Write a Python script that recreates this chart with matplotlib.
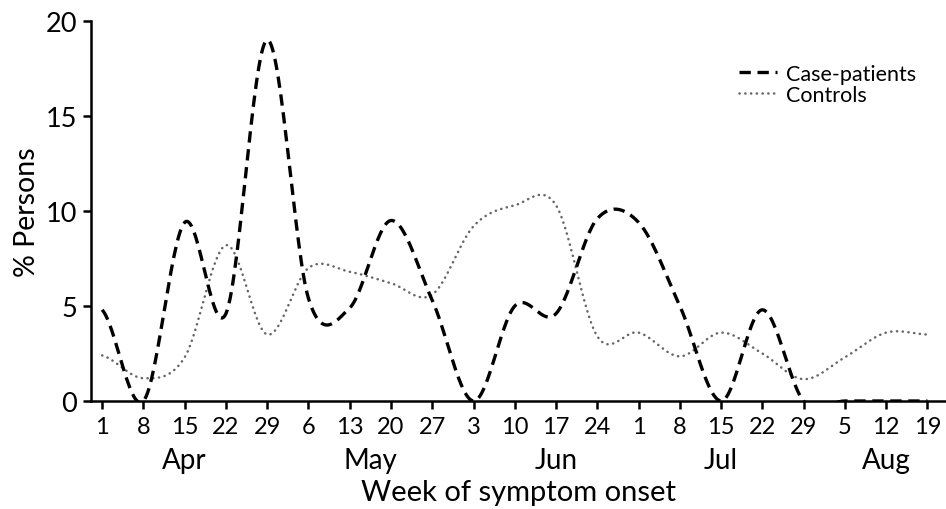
import numpy as np
import matplotlib.pyplot as plt

plt.rcParams["font.family"] = ["Lato", "DejaVu Sans"]

week_labels = ["1", "8", "15", "22", "29", "6", "13", "20", "27", "3", "10",
               "17", "24", "1", "8", "15", "22", "29", "5", "12", "19"]
months = ["Apr", "May", "Jun", "Jul", "Aug"]
month_pos = [2, 6.5, 11, 15, 19]

case_patients = [4.8, 0, 9.4, 4.6, 19.0, 5.4, 4.9, 9.5, 5.3, 0, 5.0,
                 4.6, 9.6, 9.4, 5.0, 0, 4.8, 0, 0, 0, 0]
controls = [2.4, 1.2, 2.3, 8.2, 3.5, 7.0, 6.8, 6.2, 5.6, 9.2, 10.3,
            10.3, 3.4, 3.6, 2.35, 3.6, 2.5, 1.15, 2.3, 3.6, 3.5]


def smooth(y, n=30):
    # Catmull-Rom curve through the weekly points (like Excel's smoothed line)
    y = np.asarray(y, float)
    p = np.concatenate([[y[0]], y, [y[-1]]])
    xs, ys = [], []
    for i in range(len(y) - 1):
        p0, p1, p2, p3 = p[i], p[i + 1], p[i + 2], p[i + 3]
        t = np.linspace(0, 1, n, endpoint=False)
        v = 0.5 * (2 * p1 + (-p0 + p2) * t + (2 * p0 - 5 * p1 + 4 * p2 - p3) * t ** 2
                   + (-p0 + 3 * p1 - 3 * p2 + p3) * t ** 3)
        xs.append(i + t)
        ys.append(v)
    xs.append([len(y) - 1])
    ys.append([y[-1]])
    return np.concatenate(xs), np.concatenate(ys)


fig = plt.figure(figsize=(9.46, 5.10), dpi=100)
ax = fig.add_axes([91 / 946, 1 - 402 / 510, (946 - 91) / 946, 380 / 510])

x1, y1 = smooth(case_patients)
x2, y2 = smooth(controls)
ax.plot(x2, y2, color="#666666", lw=1.8, linestyle=(0, (0.1, 2.2)),
        dash_capstyle="round", label="Controls")
ax.plot(x1, y1, color="black", lw=2.4, linestyle=(0, (3.4, 2.0)),
        label="Case-patients")

ax.set_xlim(-0.27, 20.45)
ax.set_ylim(0, 20)
ax.set_yticks([0, 5, 10, 15, 20])
ax.set_xticks(range(len(week_labels)))
ax.set_xticklabels(week_labels, fontsize=17)
ax.tick_params(axis="y", labelsize=19.5, length=6, width=1.8, pad=4)
ax.tick_params(axis="x", length=6, width=1.8, pad=5)

for s in ["top", "right"]:
    ax.spines[s].set_visible(False)
for s in ["left", "bottom"]:
    ax.spines[s].set_linewidth(1.8)

for m, pos in zip(months, month_pos):
    ax.annotate(m, xy=(pos, 0), xycoords=("data", "axes fraction"),
                xytext=(0, -33), textcoords="offset points",
                ha="center", va="top", fontsize=20)

ax.set_ylabel("% Persons", fontsize=20.5, labelpad=4)
ax.set_xlabel("Week of symptom onset", fontsize=21, labelpad=30)

h, l = ax.get_legend_handles_labels()
ax.legend(h[::-1], l[::-1], loc="upper right", bbox_to_anchor=(0.975, 0.91),
          frameon=False, fontsize=15.5, handlelength=1.8, handletextpad=0.4,
          labelspacing=0.05, borderaxespad=0)

fig.savefig("out.png", dpi=100)
